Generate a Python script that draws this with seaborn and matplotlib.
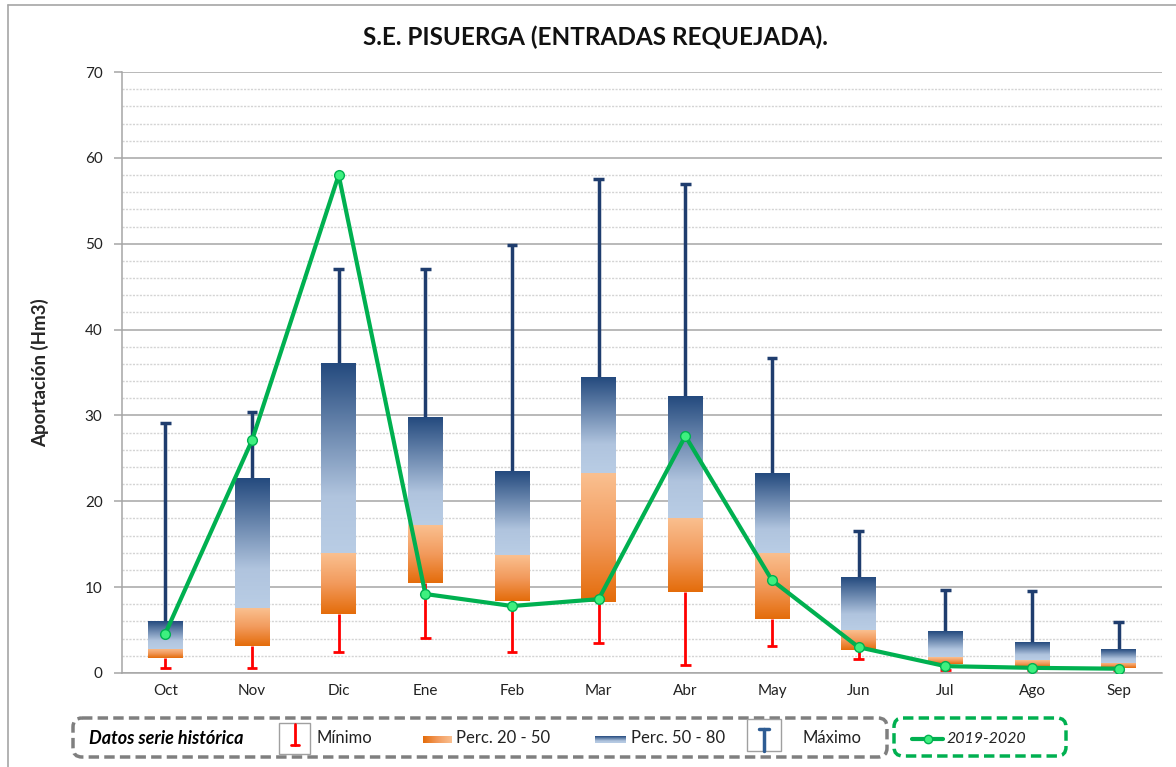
import numpy as np
import matplotlib
matplotlib.use("Agg")
import matplotlib.pyplot as plt
from matplotlib.colors import LinearSegmentedColormap
from matplotlib.patches import FancyBboxPatch, Rectangle
from matplotlib.ticker import MultipleLocator, FixedLocator
import seaborn as sns

# ============================================
# Data (Hm3)
# ============================================
months = ["Oct", "Nov", "Dic", "Ene", "Feb", "Mar", "Abr", "May", "Jun", "Jul", "Ago", "Sep"]
minimo = [0.6, 0.6, 2.5, 4.1, 2.4, 3.5, 0.9, 3.1, 1.6, 0.4, 0.3, 0.3]
perc20 = [1.7, 3.2, 6.9, 10.5, 8.4, 8.3, 9.4, 6.3, 2.7, 1.1, 0.7, 0.55]
perc50 = [2.8, 7.6, 14.0, 17.2, 13.7, 23.3, 18.1, 14.0, 5.0, 1.9, 1.5, 1.2]
perc80 = [6.0, 22.7, 36.1, 29.7, 23.4, 34.4, 32.3, 23.3, 11.1, 4.9, 3.5, 2.8]
maximo = [29.1, 30.4, 47.0, 47.0, 49.8, 57.5, 57.0, 36.7, 16.5, 9.7, 9.5, 5.9]
serie_2019 = [4.6, 27.1, 58.0, 9.2, 7.8, 8.6, 27.6, 10.8, 3.0, 0.8, 0.6, 0.5]

# ============================================
# Style
# ============================================
sns.set_style("white")
plt.rcParams["font.family"] = ["Lato", "DejaVu Sans"]

NAVY = "#1f3d6e"
RED = "#ff0000"
GREEN = "#00b050"
orange_cmap = LinearSegmentedColormap.from_list("org", ["#e46c0a", "#f29a5c", "#fac090"])
blue_cmap = LinearSegmentedColormap.from_list("blu", [(0, "#b9cde5"), (0.3, "#b0c4de"), (1, "#244a7e")])
grad = np.linspace(0, 1, 256).reshape(-1, 1)

W, H = 1176, 767
fig = plt.figure(figsize=(W / 100, H / 100), dpi=100)

# overlay axes in pixel coordinates (border + legend)
ov = fig.add_axes([0, 0, 1, 1], zorder=0)
ov.set_xlim(0, W)
ov.set_ylim(H, 0)
ov.axis("off")

ax = fig.add_axes([122 / W, 1 - 673 / H, (1162 - 122) / W, (673 - 72) / H], zorder=1)
ax.patch.set_alpha(0)

x = np.arange(len(months))
bw = 0.4

# grid
ax.yaxis.set_major_locator(MultipleLocator(10))
ax.yaxis.set_minor_locator(MultipleLocator(2))
ax.grid(axis="y", which="major", color="#a6a6a6", lw=1.1, ls="-", zorder=0)
ax.grid(axis="y", which="minor", color="#d4d4d4", lw=1, ls=(0, (1.5, 1)), zorder=0)
ax.set_axisbelow(True)

# gradient boxes
for i in x:
    ax.imshow(grad, extent=[i - bw / 2, i + bw / 2, perc20[i], perc50[i]],
              aspect="auto", origin="lower", cmap=orange_cmap, zorder=2)
    ax.imshow(grad, extent=[i - bw / 2, i + bw / 2, perc50[i], perc80[i]],
              aspect="auto", origin="lower", cmap=blue_cmap, zorder=2)

# whiskers
cap = 0.06
ax.vlines(x, perc80, maximo, color=NAVY, lw=2.5, zorder=1.5)
ax.hlines(maximo, x - cap, x + cap, color=NAVY, lw=2.5, zorder=1.5)
ax.vlines(x, minimo, perc20, color=RED, lw=2, zorder=1.5)
ax.hlines(minimo, x - cap, x + cap, color=RED, lw=2, zorder=1.5)

# 2019-2020 series
sns.lineplot(x=x, y=serie_2019, ax=ax, color=GREEN, lw=3, marker="o", markersize=7,
             markerfacecolor="#3ef07f", markeredgecolor=GREEN, markeredgewidth=1, zorder=5)

ax.set_xlim(-0.5, len(months) - 0.5)
ax.set_ylim(0, 70)

# axes look
for s in ["top", "right"]:
    ax.spines[s].set_visible(False)
for s in ["left", "bottom"]:
    ax.spines[s].set_color("#a6a6a6")
    ax.spines[s].set_linewidth(1.1)
ax.set_xticks(x)
ax.set_xticklabels(months)
ax.xaxis.set_minor_locator(FixedLocator(np.arange(-0.5, len(months), 1)))
ax.tick_params(axis="x", which="major", length=0, pad=8, labelsize=11, labelcolor="#222222")
ax.tick_params(axis="x", which="minor", length=6, color="#a6a6a6", width=1.1, direction="out")
ax.tick_params(axis="y", which="major", length=6, color="#a6a6a6", width=1.1, direction="out",
               pad=8, labelsize=11, labelcolor="#222222", left=True)
ax.tick_params(axis="y", which="minor", length=0)
ax.set_ylabel("Aportación (Hm3)", fontsize=13.5, fontweight="bold", labelpad=26)

fig.text(595 / W, 1 - 37 / H, "S.E. PISUERGA (ENTRADAS REQUEJADA).", ha="center", va="center",
         fontsize=17.5, fontweight="bold", color="#111111")

# chart border
ov.plot([8, 8], [5, H], color="#a6a6a6", lw=1.2)
ov.plot([8, W], [5, 5], color="#a6a6a6", lw=1.2)

# ============================================
# Legend (drawn in pixel coords)
# ============================================
ov.add_patch(FancyBboxPatch((73, 718), 814, 39, boxstyle="round,pad=0,rounding_size=9",
                            fill=False, ec="#7f7f7f", lw=2.5, ls=(0, (3, 1.5))))
ov.add_patch(FancyBboxPatch((894, 718), 172, 38, boxstyle="round,pad=0,rounding_size=9",
                            fill=False, ec=GREEN, lw=2.5, ls=(0, (3, 1.5))))

ov.text(89, 738, "Datos serie histórica", fontsize=13, fontweight="bold", style="italic",
        va="center", ha="left", color="black")

# Minimo symbol
ov.add_patch(Rectangle((279, 723), 31, 31, fill=False, ec="#a0a0a0", lw=1))
ov.plot([295, 295], [724, 745], color=RED, lw=2)
ov.plot([291, 299], [745, 745], color=RED, lw=2)
ov.text(316, 738, "Mínimo", fontsize=12, va="center", ha="left", color="#222222")

# percentile swatches
ov.imshow(grad.T, extent=[423, 452, 743, 736], aspect="auto", cmap=orange_cmap, origin="upper")
ov.text(456, 738, "Perc. 20 - 50", fontsize=12, va="center", ha="left", color="#222222")
ov.imshow(grad, extent=[595, 626, 743, 736], aspect="auto", cmap=blue_cmap, origin="lower")
ov.text(631, 738, "Perc. 50 - 80", fontsize=12, va="center", ha="left", color="#222222")

# Maximo symbol
ov.add_patch(Rectangle((747, 719), 34, 32, fill=False, ec="#a0a0a0", lw=1))
ov.plot([764, 764], [729, 751], color="#2e5c93", lw=2.5)
ov.plot([759, 769], [729, 729], color="#2e5c93", lw=2.5)
ov.text(803, 738, "Máximo", fontsize=12, va="center", ha="left", color="#222222")

# 2019-2020
ov.plot([912, 943], [739, 739], color=GREEN, lw=3)
ov.plot([928], [739], marker="o", markersize=6, markerfacecolor="#3ef07f", markeredgecolor=GREEN)
ov.text(947, 739, "2019-2020", fontsize=11.5, style="italic", va="center", ha="left", color="#222222")

ov.set_xlim(0, W)
ov.set_ylim(H, 0)

fig.savefig("out.png", dpi=100)
